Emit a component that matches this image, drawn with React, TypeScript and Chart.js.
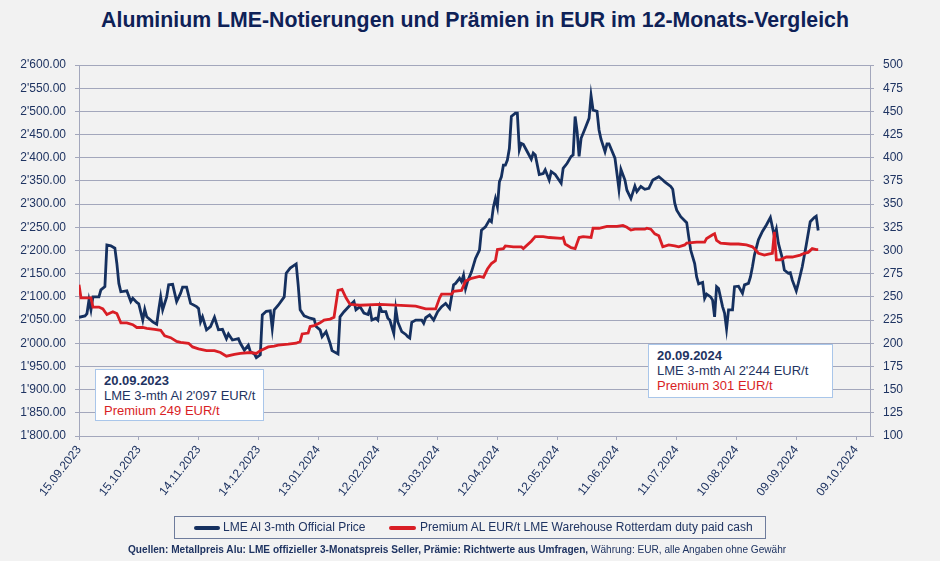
import React, { useEffect, useRef } from 'react';
import { Chart, registerables } from 'chart.js';

Chart.register(...registerables);

// ---------- data ----------
const START_DATE_UTC = Date.UTC(2023, 8, 15); // 15.09.2023 = day 0

const xTickDays = [0, 30, 60, 90, 120, 150, 180, 210, 240, 270, 300, 330, 360, 390];

const lmeDays = [
  0, 3, 4, 5, 6, 7, 10, 11, 13, 14, 16, 18, 19, 20, 21, 24, 26, 27, 29, 30,
  32, 33, 34, 37, 39, 40, 41, 42, 44, 45, 47, 49, 51, 52, 54, 56, 59, 60, 61, 62,
  64, 66, 68, 70, 72, 74, 75, 77, 80, 81, 83, 85, 86, 88, 89, 91, 92, 94, 96, 97,
  98, 100, 103, 104, 106, 109, 110, 111, 113, 116, 118, 119, 121, 122, 124, 126, 127, 130, 131, 133,
  136, 138, 139, 141, 143, 145, 146, 147, 149, 150, 151, 152, 154, 155, 156, 158, 159, 160, 162, 164,
  165, 166, 167, 169, 172, 173, 174, 176, 178, 180, 182, 184, 186, 188, 189, 191, 192, 193, 194, 195,
  197, 199, 201, 202, 204, 206, 207, 208, 209, 210, 211, 212, 213, 214, 215, 216, 217, 219, 220, 221,
  222, 223, 225, 227, 228, 229, 231, 233, 234, 236, 237, 239, 242, 243, 245, 247, 248, 249, 250, 251,
  252, 254, 256, 257, 258, 260, 261, 262, 264, 265, 266, 269, 270, 271, 272, 274, 275, 277, 279, 280,
  282, 284, 286, 288, 291, 293, 294, 297, 298, 299, 300, 302, 305, 306, 307, 309, 310, 311, 313, 314,
  315, 317, 318, 319, 320, 321, 323, 324, 325, 326, 328, 329, 331, 333, 334, 336, 337, 338, 339, 341,
  343, 345, 347, 348, 349, 350, 351, 353, 354, 356, 357, 358, 360, 361, 363, 365, 367, 369, 370, 371,
];
const lmePrices = [
  2056, 2059, 2064, 2093, 2072, 2100, 2100, 2115, 2122, 2212, 2210, 2205, 2172, 2129, 2111, 2113, 2090, 2097, 2088, 2085,
  2050, 2073, 2057, 2046, 2041, 2072, 2100, 2072, 2100, 2126, 2127, 2090, 2108, 2121, 2121, 2086, 2079, 2075, 2046, 2057,
  2029, 2036, 2056, 2029, 2030, 2010, 2020, 2007, 2010, 2000, 1985, 1996, 1982, 1977, 1969, 1975, 2061, 2069, 2070, 2032,
  2072, 2082, 2100, 2151, 2162, 2171, 2126, 2072, 2059, 2054, 2052, 2036, 2029, 2014, 2025, 2000, 1984, 1977, 2057, 2068,
  2082, 2090, 2072, 2079, 2065, 2062, 2074, 2050, 2054, 2050, 2079, 2068, 2068, 2054, 2050, 2021, 2074, 2046, 2025, 2019,
  2014, 2011, 2045, 2050, 2050, 2043, 2055, 2061, 2050, 2068, 2079, 2086, 2075, 2126, 2129, 2140, 2133, 2147, 2118, 2133,
  2154, 2183, 2201, 2244, 2251, 2266, 2262, 2294, 2312, 2294, 2348, 2359, 2384, 2384, 2395, 2420, 2489, 2496, 2496, 2417,
  2431, 2429, 2413, 2397, 2410, 2406, 2364, 2366, 2374, 2352, 2370, 2364, 2345, 2377, 2388, 2403, 2406, 2489, 2457, 2403,
  2442, 2463, 2485, 2534, 2503, 2500, 2460, 2440, 2413, 2430, 2430, 2399, 2366, 2332, 2375, 2352, 2330, 2312, 2339, 2327,
  2338, 2332, 2334, 2352, 2359, 2352, 2348, 2338, 2332, 2302, 2287, 2273, 2260, 2230, 2201, 2172, 2143, 2128, 2131, 2097,
  2106, 2100, 2093, 2057, 2122, 2118, 2079, 2065, 2031, 2072, 2072, 2122, 2123, 2108, 2126, 2129, 2143, 2165, 2190, 2223,
  2241, 2255, 2271, 2251, 2231, 2246, 2216, 2183, 2158, 2151, 2152, 2136, 2113, 2129, 2165, 2212, 2262, 2271, 2274, 2243,
];

const premiumDays = [
  0, 1, 6, 7, 10, 12, 13, 14, 17, 19, 21, 24, 27, 29, 32, 34, 38, 41, 43, 46,
  49, 51, 55, 57, 60, 64, 68, 71, 74, 78, 81, 86, 89, 91, 95, 98, 100, 105, 109, 111,
  112, 115, 116, 118, 121, 123, 126, 128, 130, 132, 134, 136, 141, 151, 159, 169, 174, 179, 181, 182,
  187, 188, 192, 194, 197, 201, 203, 205, 207, 209, 210, 213, 214, 218, 222, 223, 227, 229, 233, 236,
  242, 243, 244, 247, 249, 251, 253, 257, 258, 261, 265, 268, 270, 273, 275, 277, 279, 284, 285, 287,
  289, 291, 293, 296, 299, 301, 304, 305, 310, 314, 315, 318, 319, 320, 322, 327, 331, 335, 338, 339,
  341, 344, 346, 348, 349, 350, 352, 355, 358, 362, 364, 366, 368, 370, 371,
];
const premiumValues = [
  263, 249, 249, 239, 239, 237, 234, 231, 234, 232, 222, 222, 220, 217, 217, 216, 215, 214, 208, 206,
  202, 201, 200, 196, 194, 192, 192, 190, 186, 188, 189, 190, 189, 192, 196, 197, 198, 199, 200, 202,
  210, 211, 218, 219, 222, 225, 226, 228, 257, 258, 249, 242, 241, 242, 241, 240, 237, 237, 249, 253,
  253, 256, 257, 267, 270, 272, 271, 280, 286, 289, 301, 302, 305, 304, 304, 302, 310, 315, 315, 314,
  313, 314, 307, 303, 302, 314, 315, 314, 324, 324, 326, 326, 326, 327, 325, 322, 323, 323, 324, 323,
  318, 316, 304, 306, 305, 304, 306, 308, 309, 309, 313, 317, 318, 311, 308, 307, 307, 306, 304, 302,
  297, 295, 296, 297, 320, 290, 290, 293, 293, 295, 297, 298, 302, 301, 301,
];

const leftAxis = { min: 1800, max: 2600, step: 50 };
const rightAxis = { min: 100, max: 500, step: 25 };
const xAxisMaxDay = 397;

const titleText = 'Aluminium LME-Notierungen und Prämien in EUR im 12-Monats-Vergleich';
const seriesNames = ['LME Al 3-mth Official Price', 'Premium AL EUR/t LME Warehouse Rotterdam duty paid cash'];
const noteStart = ['20.09.2023', "LME 3-mth Al 2'097 EUR/t", 'Premium 249 EUR/t'];
const noteEnd = ['20.09.2024', "LME 3-mth Al 2'244 EUR/t", 'Premium 301 EUR/t'];
const footerBold = 'Quellen: Metallpreis Alu: LME offizieller 3-Monatspreis Seller, Prämie: Richtwerte aus Umfragen, ';
const footerPlain = 'Währung: EUR, alle Angaben ohne Gewähr';

// ---------- styles ----------
const NAVY = '#15305F';
const RED = '#D91E25';
const TEXT = '#1F3462';
const GRID = '#A3A7BC';
const FONT = '"Liberation Sans", Arial, Helvetica, sans-serif';

function fmtDate(day: number): string {
  const d = new Date(START_DATE_UTC + day * 86400000);
  const dd = String(d.getUTCDate()).padStart(2, '0');
  const mm = String(d.getUTCMonth() + 1).padStart(2, '0');
  return `${dd}.${mm}.${d.getUTCFullYear()}`;
}

function fmtPrice(v: number): string {
  const s = v.toFixed(2);
  const [int, dec] = s.split('.');
  return int.replace(/\B(?=(\d{3})+(?!\d))/g, "'") + '.' + dec;
}

export default function App() {
  const canvasRef = useRef<HTMLCanvasElement | null>(null);

  useEffect(() => {
    document.body.style.margin = '0';
    const canvas = canvasRef.current;
    if (!canvas) return;
    const chart = new Chart(canvas, {
      type: 'line',
      data: {
        datasets: [
          {
            label: seriesNames[1],
            data: premiumDays.map((d, i) => ({ x: d, y: premiumValues[i] })),
            yAxisID: 'y2',
            borderColor: RED,
            borderWidth: 2.8,
            pointRadius: 0,
            tension: 0,
            order: 0,
          },
          {
            label: seriesNames[0],
            data: lmeDays.map((d, i) => ({ x: d, y: lmePrices[i] })),
            yAxisID: 'y',
            borderColor: NAVY,
            borderWidth: 2.8,
            pointRadius: 0,
            tension: 0,
            order: 1,
          },
        ],
      },
      options: {
        responsive: false,
        animation: false,
        devicePixelRatio: 1,
        layout: { padding: { top: 65, left: 0, right: 0, bottom: 0 } },
        plugins: { legend: { display: false }, tooltip: { enabled: false }, title: { display: false } },
        scales: {
          x: {
            type: 'linear',
            min: 0,
            max: xAxisMaxDay,
            afterBuildTicks: (scale: any) => {
              scale.ticks = xTickDays.map((v) => ({ value: v }));
            },
            afterFit: (scale: any) => {
              scale.height = 125;
            },
            ticks: {
              autoSkip: false,
              minRotation: 52,
              maxRotation: 52,
              padding: 3,
              color: TEXT,
              font: { family: FONT, size: 12 },
              callback: (v: any) => fmtDate(Number(v)),
            },
            grid: { display: true, drawOnChartArea: false, drawTicks: true, tickLength: 4, color: GRID },
            border: { display: true, color: GRID },
          },
          y: {
            position: 'left',
            min: leftAxis.min,
            max: leftAxis.max,
            afterFit: (scale: any) => {
              scale.width = 79;
            },
            ticks: {
              stepSize: leftAxis.step,
              padding: 9,
              color: TEXT,
              font: { family: FONT, size: 12 },
              callback: (v: any) => fmtPrice(Number(v)),
            },
            grid: { color: GRID, tickLength: 4, lineWidth: 1 },
            border: { display: true, color: GRID },
          },
          y2: {
            position: 'right',
            min: rightAxis.min,
            max: rightAxis.max,
            afterFit: (scale: any) => {
              scale.width = 70;
            },
            ticks: {
              stepSize: rightAxis.step,
              padding: 9,
              color: TEXT,
              font: { family: FONT, size: 12 },
              callback: (v: any) => String(v),
            },
            grid: { drawOnChartArea: false, tickLength: 4, color: GRID },
            border: { display: true, color: GRID },
          },
        },
      },
    });
    return () => chart.destroy();
  }, []);

  const noteBox = (lines: string[], left: number, top: number, width: number, height: number) => (
    <div
      style={{
        position: 'absolute',
        left,
        top,
        width,
        height,
        boxSizing: 'border-box',
        background: '#FFFFFF',
        border: '1px solid #A9C6EA',
        padding: '3px 0 0 8px',
        fontFamily: FONT,
        fontSize: 13,
        lineHeight: '15px',
        color: TEXT,
        whiteSpace: 'nowrap',
      }}
    >
      <div style={{ fontWeight: 'bold' }}>{lines[0]}</div>
      <div>{lines[1]}</div>
      <div style={{ color: RED }}>{lines[2]}</div>
    </div>
  );

  return (
    <div style={{ position: 'absolute', left: 0, top: 0, width: 940, height: 561, background: '#F2F2F2', overflow: 'hidden' }}>
      <div
        style={{
          position: 'absolute',
          left: 0,
          top: 8,
          width: 950,
          textAlign: 'center',
          fontFamily: FONT,
          fontWeight: 'bold',
          fontSize: 21.3,
          lineHeight: '24px',
          color: '#0E2157',
          whiteSpace: 'nowrap',
        }}
      >
        {titleText}
      </div>
      <canvas ref={canvasRef} width={940} height={561} style={{ position: 'absolute', left: 0, top: 0 }} />
      {noteBox(noteStart, 95, 369, 169, 52)}
      {noteBox(noteEnd, 648, 344, 185, 54)}
      <div
        style={{
          position: 'absolute',
          left: 174,
          top: 516,
          width: 592,
          height: 23,
          boxSizing: 'border-box',
          border: '1px solid #6E7C9C',
          fontFamily: FONT,
          fontSize: 12,
          color: TEXT,
        }}
      >
        <div style={{ position: 'absolute', left: 19, top: 9, width: 26, height: 3.5, borderRadius: 2, background: NAVY }} />
        <div style={{ position: 'absolute', left: 48, top: 3, lineHeight: '14px', whiteSpace: 'nowrap' }}>{seriesNames[0]}</div>
        <div style={{ position: 'absolute', left: 214, top: 9, width: 27, height: 3.5, borderRadius: 2, background: RED }} />
        <div style={{ position: 'absolute', left: 245, top: 3, lineHeight: '14px', whiteSpace: 'nowrap' }}>{seriesNames[1]}</div>
      </div>
      <div
        style={{
          position: 'absolute',
          left: 128,
          top: 544,
          fontFamily: FONT,
          fontSize: 10.1,
          lineHeight: '12px',
          color: TEXT,
          whiteSpace: 'nowrap',
        }}
      >
        <span style={{ fontWeight: 'bold' }}>{footerBold}</span>
        <span>{footerPlain}</span>
      </div>
    </div>
  );
}
